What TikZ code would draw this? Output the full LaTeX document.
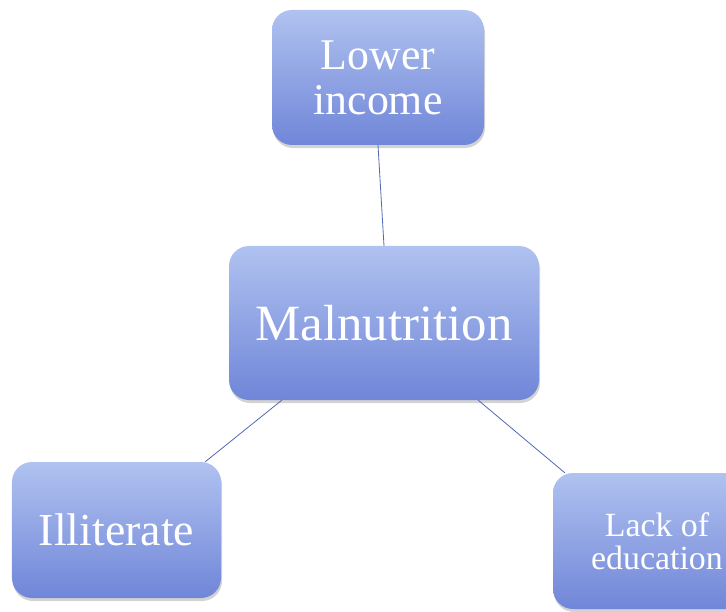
\documentclass[tikz,border=0pt]{standalone}
\usepackage{fontspec}
\setmainfont{Liberation Serif}
\usetikzlibrary{shadows}
\definecolor{boxtop}{RGB}{176,194,240}
\definecolor{boxbot}{RGB}{112,134,216}
\definecolor{linkcol}{RGB}{82,104,180}
\tikzset{
  causebox/.style={rounded corners=20bp,top color=boxtop,bottom color=boxbot,draw=none,
    text=white,align=center,inner sep=0pt,
    drop shadow={opacity=0.35,shadow xshift=1bp,shadow yshift=-3bp}},
  link/.style={linkcol,line width=0.8bp},
}
\begin{document}
\begin{tikzpicture}[x=1bp,y=-1bp,line join=bevel,]
%%
\useasboundingbox (0,0) rectangle (726,612);
\clip (0,0) rectangle (726,612);
\node (node_top) at (378.0,77.5) [causebox,minimum width=212bp,minimum height=135bp,font=\fontsize{44}{45}\selectfont] {Lower\\income};
  \node (node_mid) at (384.0,323.0) [causebox,minimum width=310bp,minimum height=154bp,font=\fontsize{51}{54}\selectfont] {Malnutrition};
  \node (node_left) at (116.5,530.0) [causebox,minimum width=209bp,minimum height=136bp,font=\fontsize{46}{48}\selectfont] {Illiterate};
  \node (node_right) at (657.0,541.0) [causebox,minimum width=208bp,minimum height=136bp,font=\fontsize{34}{33}\selectfont] {Lack of\\education};
  \draw [link] (node_top.south) -- (node_mid.north);
  \draw [link] ([xshift=53bp]node_mid.south west) -- ([xshift=-16bp]node_left.north east);
  \draw [link] ([xshift=-61bp]node_mid.south east) -- ([xshift=12bp]node_right.north west);
%
\end{tikzpicture}
\end{document}
